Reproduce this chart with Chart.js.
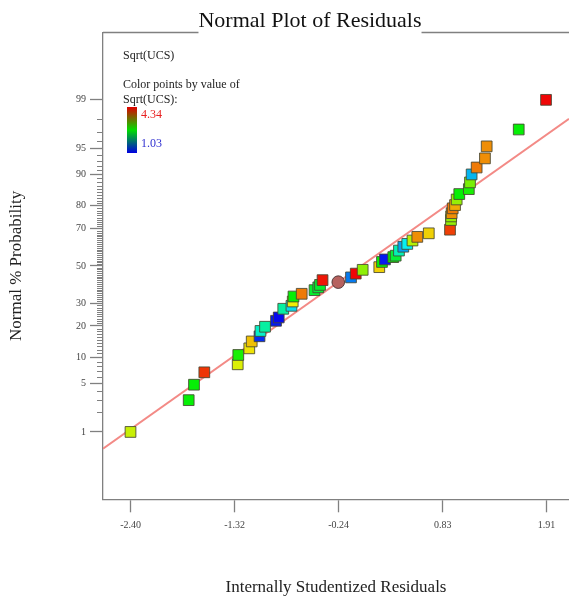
<!DOCTYPE html>
<html>
<head>
<meta charset="utf-8">
<title>Normal Plot of Residuals</title>
<script src="https://cdn.jsdelivr.net/npm/chart.js@4.4.1/dist/chart.umd.min.js"></script>
<style>
    html, body { margin: 0; padding: 0; background: #fff; }
    #wrap { width: 569px; height: 598px; }
</style>
</head>
<body>
<div id="wrap"><canvas id="residualChart" width="569" height="598"></canvas></div>
<script>
// Internally studentized residuals, their normal % probability and Sqrt(UCS)
const residuals = [
    -2.402, -1.799, -1.744, -1.637, -1.291, -1.285, -1.171, -1.146, -1.065, -1.055,
    -1.008, -0.894, -0.866, -0.819, -0.734, -0.721, -0.713, -0.628, -0.495, -0.456,
    -0.438, -0.412, -0.117, -0.068, 0.004, 0.176, 0.204, 0.235, 0.321, 0.346,
    0.380, 0.425, 0.466, 0.520, 0.570, 0.689, 0.909, 0.919, 0.921, 0.926,
    0.937, 0.961, 0.978, 1.005, 1.104, 1.116, 1.133, 1.185, 1.271, 1.289,
    1.621, 1.904
];
const probabilities = [
    1.0, 3.0, 4.8, 6.8, 8.4, 10.6, 12.4, 14.5, 16.2, 18.1,
    19.7, 22.1, 23.5, 27.4, 28.8, 30.9, 33.4, 34.8, 36.7, 38.2,
    39.5, 42.1, 43.6, 45.7, 47.8, 49.3, 52.2, 53.6, 54.9, 55.7,
    58.5, 60.6, 62.1, 63.9, 65.8, 67.6, 69.4, 74.0, 75.6, 77.0,
    79.0, 80.3, 82.4, 84.3, 85.9, 87.9, 90.0, 91.6, 93.4, 95.3,
    97.2, 99.0
];
const sqrtUcs = [
    3.38, 2.69, 2.69, 4.17, 3.45, 2.75, 3.55, 3.68, 1.17, 1.99,
    2.13, 1.10, 1.05, 2.13, 1.79, 3.51, 2.69, 3.93, 2.55, 2.50,
    2.55, 4.28, 1.44, 4.34, 3.17, 3.62, 2.69, 1.10, 2.69, 2.50,
    2.06, 1.58, 1.86, 3.31, 3.86, 3.62, 4.13, 3.20, 3.20, 3.86,
    3.93, 3.75, 3.20, 2.69, 2.75, 3.10, 1.65, 3.93, 3.86, 3.86,
    2.69, 4.34
];

// highlighted run, drawn as a circle
const markedResidual = [-0.249];
const markedProbability = [41.0];

// fitted normal line, end points
const fitResiduals = [-2.687, 2.142];
const fitProbabilities = [0.52, 98.04];

const xTickValues = [-2.40, -1.3225, -0.245, 0.8325, 1.91];
const xTickLabels = ['-2.40', '-1.32', '-0.24', '0.83', '1.91'];
const yTickPercents = [1, 5, 10, 20, 30, 50, 70, 80, 90, 95, 99];

const colorMin = 1.03;
const colorMax = 4.34;

const SERIF = '"Liberation Serif", "Times New Roman", serif';

// inverse normal CDF (Acklam)
function probit(p) {
    const a = [-3.969683028665376e+01, 2.209460984245205e+02, -2.759285104469687e+02, 1.383577518672690e+02, -3.066479806614716e+01, 2.506628277459239e+00];
    const b = [-5.447609879822406e+01, 1.615858368580409e+02, -1.556989798598866e+02, 6.680131188771972e+01, -1.328068155288572e+01];
    const c = [-7.784894002430293e-03, -3.223964580411365e-01, -2.400758277161838e+00, -2.549671010020090e+00, 4.374664141464968e+00, 2.938163982698783e+00];
    const d = [7.784695709041462e-03, 3.224671290700398e-01, 2.445134137142996e+00, 3.754408661907416e+00];
    const pLow = 0.02425;
    let q, r;
    if (p < pLow) {
        q = Math.sqrt(-2 * Math.log(p));
        return (((((c[0] * q + c[1]) * q + c[2]) * q + c[3]) * q + c[4]) * q + c[5]) /
            ((((d[0] * q + d[1]) * q + d[2]) * q + d[3]) * q + 1);
    }
    if (p <= 1 - pLow) {
        q = p - 0.5;
        r = q * q;
        return (((((a[0] * r + a[1]) * r + a[2]) * r + a[3]) * r + a[4]) * r + a[5]) * q /
            (((((b[0] * r + b[1]) * r + b[2]) * r + b[3]) * r + b[4]) * r + 1);
    }
    q = Math.sqrt(-2 * Math.log(1 - p));
    return -(((((c[0] * q + c[1]) * q + c[2]) * q + c[3]) * q + c[4]) * q + c[5]) /
        ((((d[0] * q + d[1]) * q + d[2]) * q + d[3]) * q + 1);
}

function valueColor(v) {
    const t = (colorMax - v) / (colorMax - colorMin);
    const hue = Math.max(0, Math.min(240, t * 240));
    return `hsl(${hue.toFixed(0)}, 95%, 48%)`;
}

const toPoints = (xs, ps) => xs.map((x, i) => ({ x: x, y: probit(ps[i] / 100) }));

// frame top, minor probability ticks, title and colour key
const decorations = {
    id: 'decorations',
    afterDraw(chart) {
        const { ctx, chartArea } = chart;
        const yScale = chart.scales.y;
        ctx.save();

        ctx.strokeStyle = '#808080';
        ctx.lineWidth = 1;
        ctx.beginPath();
        for (let p = 1; p <= 99; p++) {
            if (yTickPercents.includes(p)) continue;
            const y = Math.round(yScale.getPixelForValue(probit(p / 100))) + 0.5;
            ctx.moveTo(chartArea.left - 6, y);
            ctx.lineTo(chartArea.left, y);
        }
        ctx.stroke();

        ctx.lineWidth = 1.3;
        ctx.beginPath();
        ctx.moveTo(chartArea.left, chartArea.top);
        ctx.lineTo(chartArea.right, chartArea.top);
        ctx.stroke();

        // title sits on the top frame line
        const title = 'Normal Plot of Residuals';
        ctx.font = `22px ${SERIF}`;
        const tw = ctx.measureText(title).width;
        const tx = 310;
        ctx.fillStyle = '#fff';
        ctx.fillRect(tx - tw / 2, chartArea.top - 3, tw, 6);
        ctx.fillStyle = '#111';
        ctx.textAlign = 'center';
        ctx.textBaseline = 'alphabetic';
        ctx.fillText(title, tx, 26.5);

        ctx.textAlign = 'left';
        ctx.textBaseline = 'middle';
        ctx.font = `12px ${SERIF}`;
        ctx.fillStyle = '#222';
        ctx.fillText('Sqrt(UCS)', 123, 56);
        ctx.fillText('Color points by value of', 123, 85);
        ctx.fillText('Sqrt(UCS):', 123, 100);

        const grad = ctx.createLinearGradient(0, 107, 0, 153);
        grad.addColorStop(0, '#e00000');
        grad.addColorStop(0.5, '#00dd00');
        grad.addColorStop(1, '#0000e0');
        ctx.fillStyle = grad;
        ctx.fillRect(127, 107, 10, 46);

        ctx.fillStyle = '#e82020';
        ctx.fillText(colorMax.toFixed(2), 141, 115);
        ctx.fillStyle = '#3030d0';
        ctx.fillText(colorMin.toFixed(2), 141, 144);

        ctx.restore();
    }
};

new Chart(document.getElementById('residualChart'), {
    type: 'scatter',
    data: {
        datasets: [
            {
                label: 'Normal line',
                data: toPoints(fitResiduals, fitProbabilities),
                showLine: true,
                borderColor: '#f38a86',
                borderWidth: 2,
                pointRadius: 0,
                order: 3
            },
            {
                label: 'Residuals',
                data: toPoints(residuals, probabilities),
                pointStyle: 'rect',
                pointRadius: 7.6,
                backgroundColor: sqrtUcs.map(valueColor),
                borderColor: 'rgba(70, 70, 50, 0.85)',
                borderWidth: 1,
                order: 2
            },
            {
                label: 'Marked',
                data: toPoints(markedResidual, markedProbability),
                pointStyle: 'circle',
                pointRadius: 6.3,
                backgroundColor: '#b6625f',
                borderColor: 'rgba(70, 50, 50, 0.9)',
                borderWidth: 1,
                order: 1
            }
        ]
    },
    options: {
        responsive: false,
        animation: false,
        layout: {
            autoPadding: false,
            padding: { top: 32.5, left: 0, right: 0, bottom: 0 }
        },
        plugins: {
            legend: { display: false },
            title: { display: false },
            tooltip: { enabled: false }
        },
        scales: {
            x: {
                type: 'linear',
                min: -2.687,
                max: 2.142,
                afterBuildTicks: s => { s.ticks = xTickValues.map(v => ({ value: v })); },
                afterFit: s => {
                    s.height = 98.7;
                    s.paddingLeft = 0;
                    s.paddingRight = 0;
                },
                ticks: {
                    callback: (v, i) => xTickLabels[i],
                    font: { family: SERIF, size: 10 },
                    color: '#444',
                    padding: 7,
                    maxRotation: 0,
                    autoSkip: false
                },
                grid: { drawOnChartArea: false, tickLength: 13, tickColor: '#808080', tickWidth: 1.3 },
                border: { color: '#808080', width: 1.3 },
                title: {
                    display: true,
                    text: 'Internally Studentized Residuals',
                    font: { family: SERIF, size: 17 },
                    color: '#222',
                    padding: 0
                }
            },
            y: {
                type: 'linear',
                min: -3.27,
                max: 3.27,
                afterBuildTicks: s => { s.ticks = yTickPercents.map(p => ({ value: probit(p / 100) })); },
                afterFit: s => {
                    s.width = 103;
                    s.paddingTop = 0;
                    s.paddingBottom = 0;
                },
                ticks: {
                    callback: (v, i) => String(yTickPercents[i]),
                    font: { family: SERIF, size: 10 },
                    color: '#444',
                    padding: 4,
                    autoSkip: false
                },
                grid: { drawOnChartArea: false, tickLength: 13, tickColor: '#808080', tickWidth: 1.3 },
                border: { color: '#808080', width: 1.3 },
                title: {
                    display: true,
                    text: 'Normal % Probability',
                    font: { family: SERIF, size: 17 },
                    color: '#222',
                    padding: { top: 6.8, bottom: 0 }
                }
            }
        }
    },
    plugins: [decorations]
});
</script>
</body>
</html>
